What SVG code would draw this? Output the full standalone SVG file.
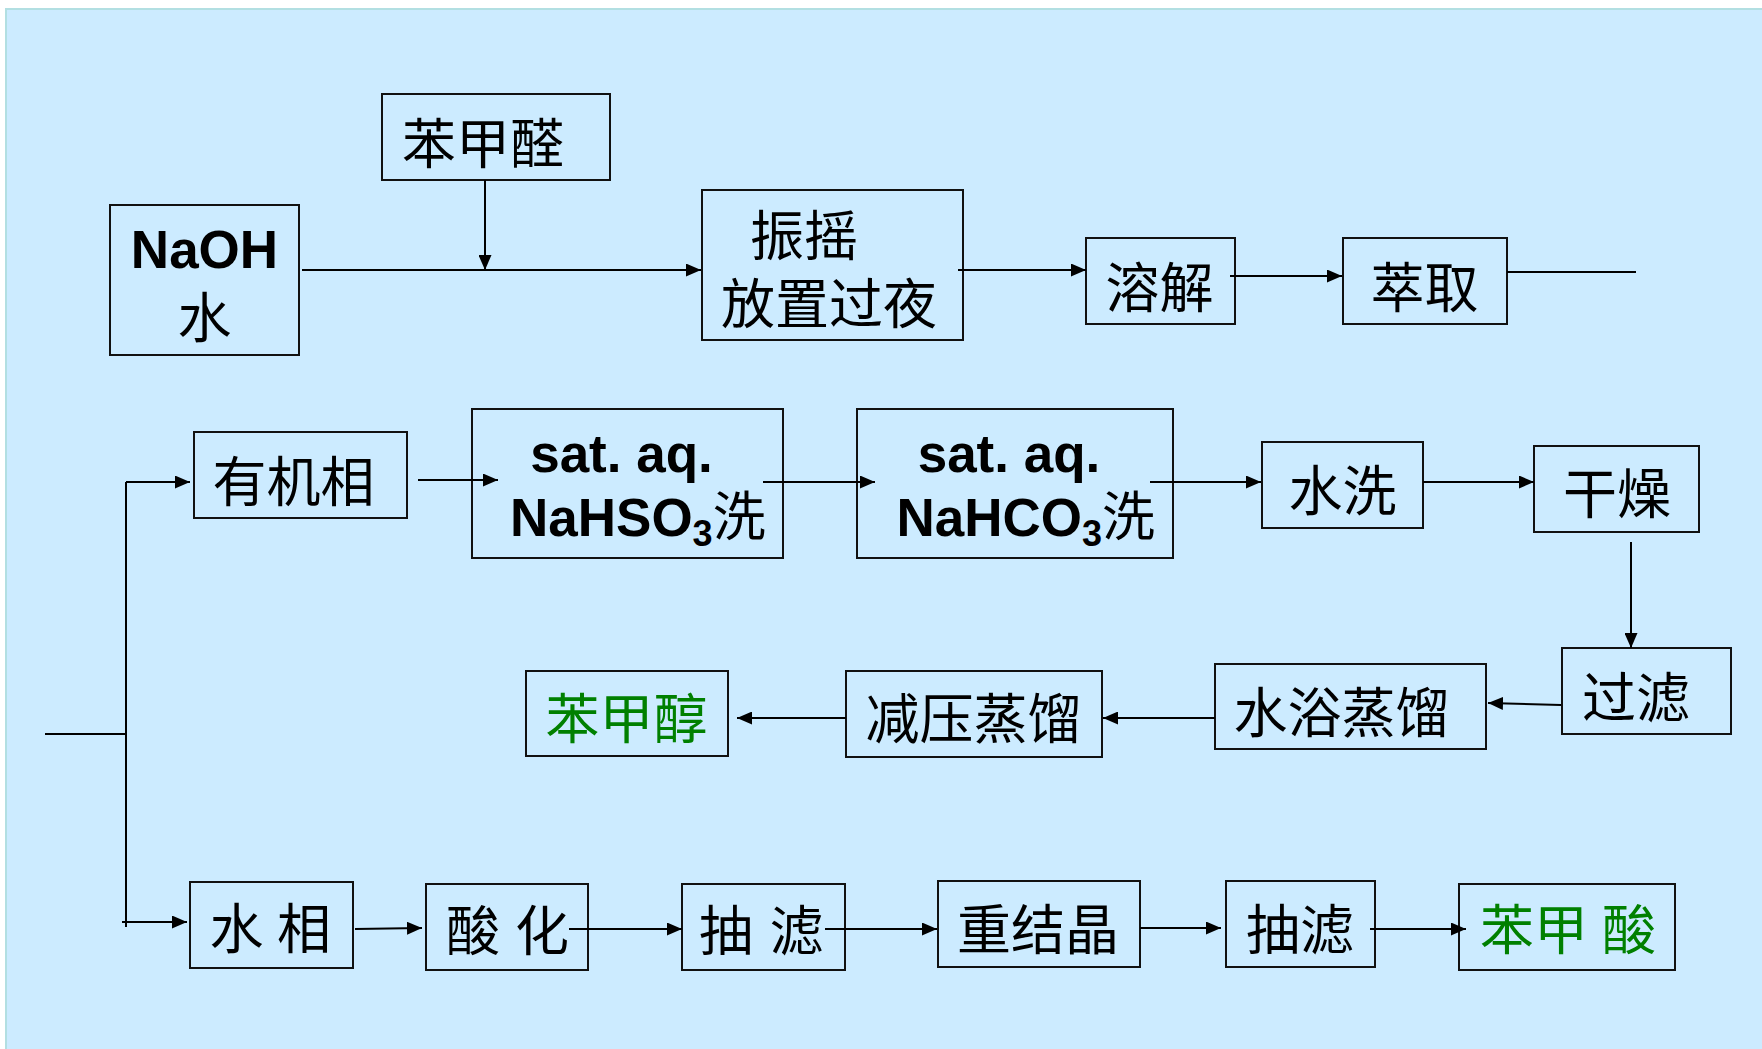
<svg xmlns="http://www.w3.org/2000/svg" width="1762" height="1049" viewBox="0 0 1762 1049">
<style>
.box{fill:none;stroke:#111;stroke-width:2}
.cn{font-family:"Noto Sans CJK SC","Noto Sans",sans-serif;font-size:54px;fill:#000;text-anchor:middle}
.en{font-family:"Liberation Sans",Arial,sans-serif;font-weight:bold;font-size:53px;fill:#000}
.mix{font-family:"Liberation Sans","Noto Sans CJK SC",sans-serif;font-size:53px;fill:#000}
.green{fill:#008000}
.ln{fill:none;stroke:#000;stroke-width:2}
</style>
<defs>
<marker id="ah" viewBox="0 0 15 13" refX="15" refY="6.5" markerWidth="15" markerHeight="13" markerUnits="userSpaceOnUse" orient="auto">
<path d="M0,0 L15,6.5 L0,13 Z" fill="#000"/>
</marker>
</defs>
<rect x="0" y="0" width="1762" height="1049" fill="#fff"/>
<rect x="6" y="9" width="1770" height="1050" fill="#CCEBFF" stroke="#B2DFE2" stroke-width="2"/>

<g id="n-benjiaquan"><rect class="box" x="382" y="94" width="228" height="86"/><text class="cn" x="483" y="164">苯甲醛</text></g>
<g id="n-naoh"><rect class="box" x="110" y="205" width="189" height="150"/><text class="en" x="204.5" y="268" text-anchor="middle">NaOH</text><text class="cn" x="204.5" y="338">水</text></g>
<g id="n-zhenyao"><rect class="box" x="702" y="190" width="261" height="150"/><text class="cn" x="804" y="256">振摇</text><text class="cn" x="829" y="324">放置过夜</text></g>
<g id="n-rongjie"><rect class="box" x="1086" y="238" width="149" height="86"/><text class="cn" x="1159.5" y="308">溶解</text></g>
<g id="n-cuiqu"><rect class="box" x="1343" y="238" width="164" height="86"/><text class="cn" x="1424.5" y="308">萃取</text></g>

<g id="n-youjixiang"><rect class="box" x="194" y="432" width="213" height="86"/><text class="cn" x="293.5" y="502">有机相</text></g>
<g id="n-nahso3"><rect class="box" x="472" y="409" width="311" height="149"/><text class="en" x="621.5" y="472" text-anchor="middle">sat. aq.</text><text class="mix" x="510" y="536"><tspan font-weight="bold">NaHSO</tspan><tspan font-weight="bold" font-size="36" dy="10">3</tspan><tspan dy="-10" font-family="Noto Sans CJK SC, sans-serif">洗</tspan></text></g>
<g id="n-nahco3"><rect class="box" x="857" y="409" width="316" height="149"/><text class="en" x="1009" y="472" text-anchor="middle">sat. aq.</text><text class="mix" x="896.5" y="536"><tspan font-weight="bold">NaHCO</tspan><tspan font-weight="bold" font-size="36" dy="10">3</tspan><tspan dy="-10" font-family="Noto Sans CJK SC, sans-serif">洗</tspan></text></g>
<g id="n-shuixi"><rect class="box" x="1262" y="442" width="161" height="86"/><text class="cn" x="1342.5" y="511">水洗</text></g>
<g id="n-ganzao"><rect class="box" x="1534" y="446" width="165" height="86"/><text class="cn" x="1617" y="514">干燥</text></g>
<g id="n-guolv"><rect class="box" x="1562" y="648" width="169" height="86"/><text class="cn" x="1636" y="718">过滤</text></g>
<g id="n-shuiyu"><rect class="box" x="1215" y="664" width="271" height="85"/><text class="cn" x="1341.5" y="733">水浴蒸馏</text></g>
<g id="n-jianya"><rect class="box" x="846" y="671" width="256" height="86"/><text class="cn" x="973.5" y="739">减压蒸馏</text></g>
<g id="n-benjiachun"><rect class="box" x="526" y="671" width="202" height="85"/><text class="cn green" x="626.5" y="739">苯甲醇</text></g>

<g id="n-shuixiang"><rect class="box" x="190" y="882" width="163" height="86"/><text class="cn" x="236.5 270 304" y="949">水 相</text></g>
<g id="n-suanhua"><rect class="box" x="426" y="884" width="162" height="86"/><text class="cn" x="473 508 542" y="951">酸 化</text></g>
<g id="n-choulv1"><rect class="box" x="682" y="884" width="163" height="86"/><text class="cn" x="726 761 796.5" y="951">抽 滤</text></g>
<g id="n-chongjiejing"><rect class="box" x="938" y="881" width="202" height="86"/><text class="cn" x="1038" y="950">重结晶</text></g>
<g id="n-choulv2"><rect class="box" x="1226" y="881" width="149" height="86"/><text class="cn" x="1300" y="950">抽滤</text></g>
<g id="n-benjiasuan"><rect class="box" x="1459" y="884" width="216" height="86"/><text class="cn green" x="1507 1561 1595 1629" y="950">苯甲 酸</text></g>

<g id="connectors">
<path class="ln" d="M302,270 H701" marker-end="url(#ah)"/>
<path class="ln" d="M485,180 V270" marker-end="url(#ah)"/>
<path class="ln" d="M958,270 H1086" marker-end="url(#ah)"/>
<path class="ln" d="M1230,276 H1342" marker-end="url(#ah)"/>
<path class="ln" d="M1507,272 H1636"/>
<path class="ln" d="M45,734 H126"/>
<path class="ln" d="M126,482 V927"/>
<path class="ln" d="M126,482 H190" marker-end="url(#ah)"/>
<path class="ln" d="M122,922 H187" marker-end="url(#ah)"/>
<path class="ln" d="M418,480 H498" marker-end="url(#ah)"/>
<path class="ln" d="M763,482 H875" marker-end="url(#ah)"/>
<path class="ln" d="M1150,482 H1261" marker-end="url(#ah)"/>
<path class="ln" d="M1423,482 H1534" marker-end="url(#ah)"/>
<path class="ln" d="M1631,542 V648" marker-end="url(#ah)"/>
<path class="ln" d="M1561,705 L1488,703" marker-end="url(#ah)"/>
<path class="ln" d="M1215,718 H1103" marker-end="url(#ah)"/>
<path class="ln" d="M846,718 H737" marker-end="url(#ah)"/>
<path class="ln" d="M355,929 L422,928" marker-end="url(#ah)"/>
<path class="ln" d="M569,929 H682" marker-end="url(#ah)"/>
<path class="ln" d="M825,929 H937" marker-end="url(#ah)"/>
<path class="ln" d="M1140,928 H1221" marker-end="url(#ah)"/>
<path class="ln" d="M1370,929 H1466" marker-end="url(#ah)"/>
</g>
</svg>
